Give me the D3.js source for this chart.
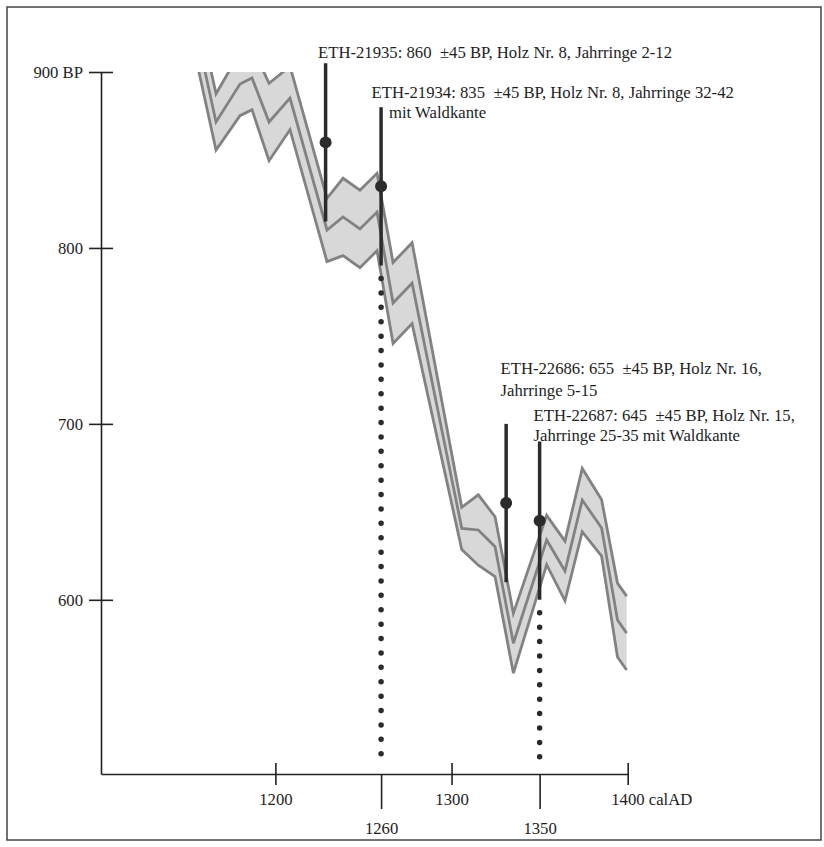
<!DOCTYPE html>
<html>
<head>
<meta charset="utf-8">
<script src="https://cdn.jsdelivr.net/npm/d3@7"></script>
<style>
  body { margin: 0; background: #fff; }
  svg text { font-family: "Liberation Serif", "DejaVu Serif", serif; fill: #1e1e1e; white-space: pre; }
</style>
</head>
<body>
<div class="chart"></div>
<script>
// calibration curve (center line) and its band half-width, in BP
const calYears = [1154.9, 1166.3, 1179.9, 1186.7, 1196.4, 1208.3, 1229.3, 1238.4, 1248.0, 1257.7,
                  1266.8, 1277.6, 1305.8, 1315.2, 1324.7, 1335.1, 1354.0, 1364.4, 1374.2, 1385.2, 1394.2, 1399.4]
const calBP    = [923.9, 871.6, 893.2, 896.6, 871.6, 885.2, 810.2, 817.6, 810.8, 820.4,
                  768.7, 780.0, 640.6, 639.7, 630.2, 575.3, 634.0, 616.4, 656.7, 640.8, 588.5, 581.1]
const calSigma = [16, 16, 18, 18, 22, 18, 18, 22, 22, 22,
                  23, 23, 12, 20, 17, 17, 14, 17, 18, 16, 21, 21]

// radiocarbon dates
const dateYear = [1228.5, 1260, 1331, 1350]
const dateBP   = [860, 835, 655, 645]
const dateErr  = [45, 45, 45, 45]
const dateWaldkante = [false, true, false, true]

// texts
const labelLines = [
  ["ETH-21935: 860  \u00b145 BP, Holz Nr. 8, Jahrringe 2-12"],
  ["ETH-21934: 835  \u00b145 BP, Holz Nr. 8, Jahrringe 32-42", "mit Waldkante"],
  ["ETH-22686: 655  \u00b145 BP, Holz Nr. 16,", "Jahrringe 5-15"],
  ["ETH-22687: 645  \u00b145 BP, Holz Nr. 15,", "Jahrringe 25-35 mit Waldkante"]
]
const yTicks = [600, 700, 800, 900]
const xTicks = [1200, 1300, 1400]
const xMarks = [1260, 1350]

const W = 824, H = 847
const fs = 16.7

const svg = d3.select('.chart').append('svg')
    .attr('width', W)
    .attr('height', H)

// frame
svg.append('rect')
    .attr('x', 7).attr('y', 7)
    .attr('width', 814).attr('height', 833)
    .attr('fill', 'none')
    .attr('stroke', '#444')
    .attr('stroke-width', 1.5)

// SCALES
const x = d3.scaleLinear().domain([1101, 1400]).range([101, 627.7])
const y = d3.scaleLinear().domain([501, 900]).range([774, 72])

// CURVE BAND
const cal = calYears.map((d, i) => ({year: d, bp: calBP[i], s: calSigma[i]}))

svg.append('clipPath').attr('id', 'clip')
    .append('rect')
    .attr('x', 0).attr('y', y(900))
    .attr('width', W).attr('height', y(501) - y(900))

const g = svg.append('g').attr('clip-path', 'url(#clip)')

const area = d3.area()
    .x(d => x(d.year))
    .y0(d => y(d.bp - d.s))
    .y1(d => y(d.bp + d.s))

g.append('path')
    .datum(cal)
    .attr('d', area)
    .attr('fill', '#d8d8d8')

const lineStyle = sel => sel
    .attr('fill', 'none')
    .attr('stroke', '#828282')
    .attr('stroke-width', 2.8)
    .attr('stroke-linejoin', 'miter')

g.append('path').datum(cal)
    .attr('d', d3.line().x(d => x(d.year)).y(d => y(d.bp + d.s)))
    .call(lineStyle)
g.append('path').datum(cal)
    .attr('d', d3.line().x(d => x(d.year)).y(d => y(d.bp)))
    .call(lineStyle)
g.append('path').datum(cal)
    .attr('d', d3.line().x(d => x(d.year)).y(d => y(d.bp - d.s)))
    .call(lineStyle)

// AXES
const yAxis = d3.axisLeft(y).tickValues(yTicks).tickSizeOuter(0)
    .tickFormat(d => d === 900 ? '900 BP' : d)
const yg = svg.append('g')
    .attr('transform', `translate(${x(1101)},0)`)
    .call(yAxis)
yg.selectAll('.tick line').attr('x1', -12).attr('x2', 12)
yg.selectAll('.tick text').attr('x', -18).attr('dy', '0.32em')

const xAxis = d3.axisBottom(x).tickValues(xTicks).tickSizeOuter(0)
    .tickFormat(d => d === 1400 ? '1400 calAD' : d)
const xg = svg.append('g')
    .attr('transform', `translate(0,${y(501)})`)
    .call(xAxis)
xg.selectAll('.tick line').attr('y1', -11).attr('y2', 11)
xg.selectAll('.tick text').attr('y', 31).attr('dy', 0)
xg.selectAll('.tick text').filter(d => d === 1400)
    .attr('text-anchor', 'start').attr('x', -17)

const markAxis = d3.axisBottom(x).tickValues(xMarks).tickSizeOuter(0)
    .tickFormat(d3.format('d'))
const mg = svg.append('g')
    .attr('transform', `translate(0,${y(501)})`)
    .call(markAxis)
mg.select('.domain').remove()
mg.selectAll('.tick line').attr('y1', 0).attr('y2', 35)
mg.selectAll('.tick text').attr('y', 60).attr('dy', 0)

svg.selectAll('.domain, .tick line').attr('stroke', '#222').attr('stroke-width', 1.6)
svg.selectAll('.tick text').attr('font-size', fs).attr('font-family', '"Liberation Serif", serif').attr('fill', '#1e1e1e')

// DATES
const dates = dateYear.map((d, i) => ({year: d, bp: dateBP[i], err: dateErr[i], wk: dateWaldkante[i]}))

svg.append('g').selectAll('line')
    .data(dates.filter(d => d.wk))
    .join('line')
    .attr('x1', d => x(d.year)).attr('x2', d => x(d.year))
    .attr('y1', d => y(d.bp - d.err) + 13)
    .attr('y2', y(501) - 8)
    .attr('stroke', '#2b2b2b')
    .attr('stroke-width', 5.5)
    .attr('stroke-linecap', 'round')
    .attr('stroke-dasharray', '0 14.4')

svg.append('g').selectAll('line')
    .data(dates)
    .join('line')
    .attr('x1', d => x(d.year)).attr('x2', d => x(d.year))
    .attr('y1', d => y(d.bp + d.err))
    .attr('y2', d => y(d.bp - d.err))
    .attr('stroke', '#2b2b2b')
    .attr('stroke-width', 3.5)

svg.append('g').selectAll('circle')
    .data(dates)
    .join('circle')
    .attr('cx', d => x(d.year))
    .attr('cy', d => y(d.bp))
    .attr('r', 6)
    .attr('fill', '#2b2b2b')

// LABELS
const labelPos = [
  [{x: 318, y: 58}],
  [{x: 371.5, y: 98}, {x: 389, y: 118}],
  [{x: 500.5, y: 374}, {x: 500.5, y: 396}],
  [{x: 533.5, y: 421}, {x: 533.5, y: 441}]
]
labelLines.forEach((lines, i) => {
    lines.forEach((t, j) => {
        svg.append('text')
            .attr('x', labelPos[i][j].x)
            .attr('y', labelPos[i][j].y)
            .attr('font-size', fs)
            .text(t)
    })
})
</script>
</body>
</html>
